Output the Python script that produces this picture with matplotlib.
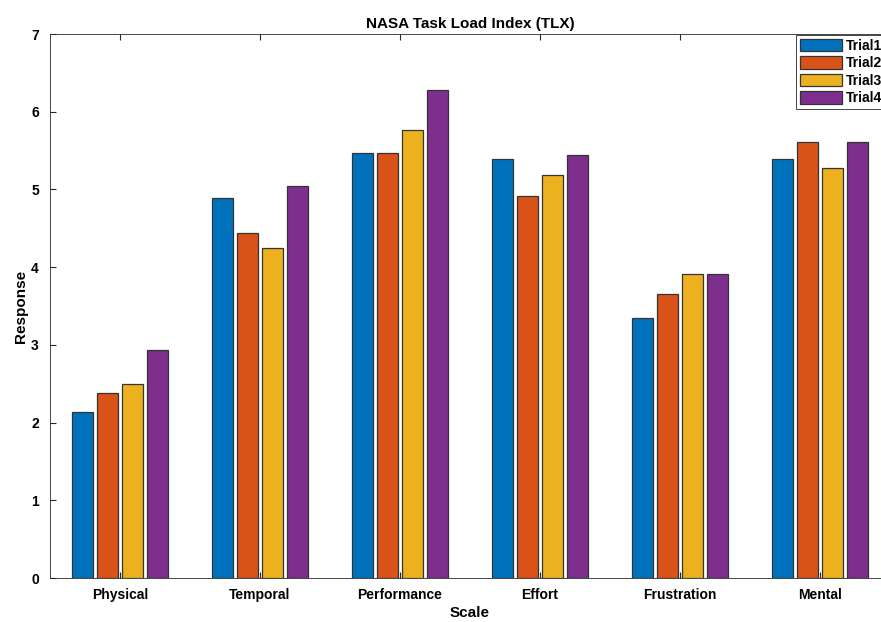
import numpy as np
import matplotlib.pyplot as plt

plt.rcParams['font.family'] = ['Liberation Sans', 'DejaVu Sans']
plt.rcParams['font.weight'] = 'bold'

scales = ['Physical', 'Temporal', 'Performance', 'Effort', 'Frustration', 'Mental']
trial1 = [2.14, 4.89, 5.47, 5.39, 3.34, 5.39]
trial2 = [2.38, 4.44, 5.47, 4.91, 3.65, 5.61]
trial3 = [2.50, 4.24, 5.77, 5.18, 3.91, 5.27]
trial4 = [2.93, 5.05, 6.28, 5.44, 3.91, 5.61]
trials = ['Trial1', 'Trial2', 'Trial3', 'Trial4']
colors = ['#0072BD', '#D95319', '#EDB120', '#7E2F8E']

fig = plt.figure(figsize=(8.81, 6.22), dpi=100)
ax = fig.add_axes([50 / 881, 44 / 622, 840 / 881, 544 / 622])

x = np.arange(1, len(scales) + 1)
step = 0.1786
w = 0.15
for i, (vals, name) in enumerate(zip([trial1, trial2, trial3, trial4], trials)):
    ax.bar(x + (i - 1.5) * step, vals, w, color=colors[i], edgecolor='#333333',
           linewidth=0.9, label=name)

ax.set_xlim(0.5, 6.5)
ax.set_ylim(0, 7)
ax.set_xticks(x)
ax.set_xticklabels(scales)
ax.set_yticks(range(0, 8))
ax.tick_params(direction='in', length=4, labelsize=10, color='#262626',
               top=True, right=True, pad=7)
ax.tick_params(axis='y', pad=8)
for s in ax.spines.values():
    s.set_color('#262626')
    s.set_linewidth(0.6)

ax.set_title('NASA Task Load Index (TLX)', fontsize=11, fontweight='bold', pad=4)
ax.set_xlabel('Scale', fontsize=11, fontweight='bold', labelpad=3)
ax.set_ylabel('Response', fontsize=11, fontweight='bold', labelpad=2)

leg = ax.legend(loc='upper left', bbox_to_anchor=(745 / 840, 1.0), fontsize=10,
                handlelength=3.0, handleheight=1.0, handletextpad=0.3,
                labelspacing=0.25, borderpad=0.25, fancybox=False, framealpha=1,
                borderaxespad=0.1)
leg.get_frame().set_edgecolor('#262626')
leg.get_frame().set_linewidth(0.6)

fig.savefig('out.png', dpi=100)
